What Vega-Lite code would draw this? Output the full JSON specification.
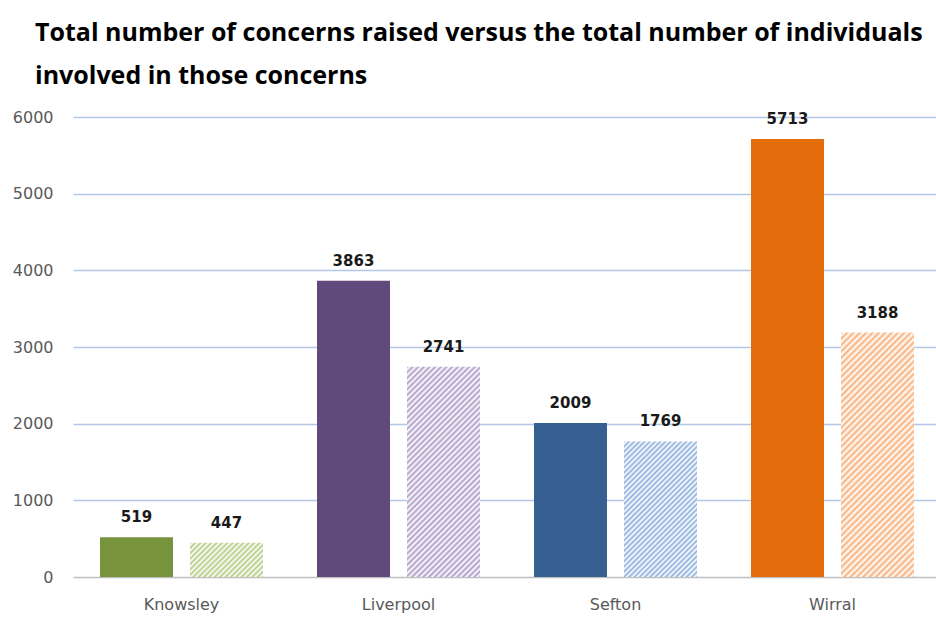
{
  "$schema": "https://vega.github.io/schema/vega-lite/v6.json",
  "width": 868,
  "height": 460,
  "autosize": {"type": "none"},
  "padding": {"left": 73, "top": 117, "right": 0, "bottom": 43},
  "background": "white",
  "config": {"view": {"stroke": null}},
  "title": {
    "text": ["Total number of concerns raised versus the total number of individuals", "involved in those concerns"],
    "anchor": "start",
    "frame": "group",
    "dx": -38,
    "offset": 20,
    "font": "Open Sans",
    "fontSize": 25,
    "fontWeight": "bold",
    "color": "#000000",
    "lineHeight": 43
  },
  "data": {
    "values": [
      {"area": "Knowsley", "type": "Concerns", "value": 519},
      {"area": "Knowsley", "type": "Individuals", "value": 447},
      {"area": "Liverpool", "type": "Concerns", "value": 3863},
      {"area": "Liverpool", "type": "Individuals", "value": 2741},
      {"area": "Sefton", "type": "Concerns", "value": 2009},
      {"area": "Sefton", "type": "Individuals", "value": 1769},
      {"area": "Wirral", "type": "Concerns", "value": 5713},
      {"area": "Wirral", "type": "Individuals", "value": 3188}
    ]
  },
  "encoding": {
    "x": {
      "field": "area", "type": "nominal", "sort": null,
      "scale": {"paddingInner": 0, "paddingOuter": -0.0115, "align": 0},
      "axis": {"title": null, "labelAngle": 0, "ticks": false, "tickSize": 0, "labelPadding": 19, "labelFont": "DejaVu Sans", "labelFontSize": 16, "labelColor": "#595959", "domainColor": "#BFBFBF", "domainWidth": 1.5, "grid": false}
    },
    "xOffset": {"field": "type", "type": "nominal", "scale": {"paddingInner": 0.189, "paddingOuter": 0.3}},
    "y": {
      "field": "value", "type": "quantitative",
      "scale": {"domain": [0, 6000]},
      "axis": {"title": null, "values": [0, 1000, 2000, 3000, 4000, 5000, 6000], "format": "d", "domain": false, "ticks": false, "tickSize": 0, "labelPadding": 20, "labelFont": "DejaVu Sans", "labelFontSize": 16, "labelColor": "#595959", "gridColor": {"condition": {"test": "datum.value === 0", "value": "transparent"}, "value": "#B4C8E6"}, "gridWidth": 1.4}
    }
  },
  "layer": [
    {
      "transform": [{"filter": "datum.type === 'Concerns'"}],
      "mark": {"type": "bar"},
      "encoding": {"color": {"field": "area", "type": "nominal", "sort": null, "scale": {"range": ["#77933C", "#604A7B", "#366092", "#E46C0A"]}, "legend": null}}
    },
    {
      "transform": [{"filter": "datum.type === 'Individuals' && datum.area === 'Knowsley'"}],
      "mark": {"type": "bar", "fill": {"gradient": "linear", "x1": 0, "y1": 0, "x2": 1.204, "y2": 0.565, "stops": [
        {"offset":0,"color":"#B3CB80"},{"offset":0.025,"color":"#fff"},{"offset":0.05,"color":"#B3CB80"},{"offset":0.075,"color":"#fff"},{"offset":0.1,"color":"#B3CB80"},{"offset":0.125,"color":"#fff"},{"offset":0.15,"color":"#B3CB80"},{"offset":0.175,"color":"#fff"},{"offset":0.2,"color":"#B3CB80"},{"offset":0.225,"color":"#fff"},{"offset":0.25,"color":"#B3CB80"},{"offset":0.275,"color":"#fff"},{"offset":0.3,"color":"#B3CB80"},{"offset":0.325,"color":"#fff"},{"offset":0.35,"color":"#B3CB80"},{"offset":0.375,"color":"#fff"},{"offset":0.4,"color":"#B3CB80"},{"offset":0.425,"color":"#fff"},{"offset":0.45,"color":"#B3CB80"},{"offset":0.475,"color":"#fff"},{"offset":0.5,"color":"#B3CB80"},{"offset":0.525,"color":"#fff"},{"offset":0.55,"color":"#B3CB80"},{"offset":0.575,"color":"#fff"},{"offset":0.6,"color":"#B3CB80"},{"offset":0.625,"color":"#fff"},{"offset":0.65,"color":"#B3CB80"},{"offset":0.675,"color":"#fff"},{"offset":0.7,"color":"#B3CB80"},{"offset":0.725,"color":"#fff"},{"offset":0.75,"color":"#B3CB80"},{"offset":0.775,"color":"#fff"},{"offset":0.8,"color":"#B3CB80"},{"offset":0.825,"color":"#fff"},{"offset":0.85,"color":"#B3CB80"},{"offset":0.875,"color":"#fff"},{"offset":0.9,"color":"#B3CB80"},{"offset":0.925,"color":"#fff"},{"offset":0.95,"color":"#B3CB80"},{"offset":0.975,"color":"#fff"},{"offset":1,"color":"#B3CB80"}
      ]}}
    },
    {
      "transform": [{"filter": "datum.type === 'Individuals' && datum.area === 'Liverpool'"}],
      "mark": {"type": "bar", "fill": {"gradient": "linear", "x1": 0, "y1": 0, "x2": 0.4176, "y2": 1.2023, "stops": [
        {"offset":0,"color":"#AE9BC6"},{"offset":0.01,"color":"#fff"},{"offset":0.02,"color":"#AE9BC6"},{"offset":0.03,"color":"#fff"},{"offset":0.04,"color":"#AE9BC6"},{"offset":0.05,"color":"#fff"},{"offset":0.06,"color":"#AE9BC6"},{"offset":0.07,"color":"#fff"},{"offset":0.08,"color":"#AE9BC6"},{"offset":0.09,"color":"#fff"},
        {"offset":0.1,"color":"#AE9BC6"},{"offset":0.11,"color":"#fff"},{"offset":0.12,"color":"#AE9BC6"},{"offset":0.13,"color":"#fff"},{"offset":0.14,"color":"#AE9BC6"},{"offset":0.15,"color":"#fff"},{"offset":0.16,"color":"#AE9BC6"},{"offset":0.17,"color":"#fff"},{"offset":0.18,"color":"#AE9BC6"},{"offset":0.19,"color":"#fff"},
        {"offset":0.2,"color":"#AE9BC6"},{"offset":0.21,"color":"#fff"},{"offset":0.22,"color":"#AE9BC6"},{"offset":0.23,"color":"#fff"},{"offset":0.24,"color":"#AE9BC6"},{"offset":0.25,"color":"#fff"},{"offset":0.26,"color":"#AE9BC6"},{"offset":0.27,"color":"#fff"},{"offset":0.28,"color":"#AE9BC6"},{"offset":0.29,"color":"#fff"},
        {"offset":0.3,"color":"#AE9BC6"},{"offset":0.31,"color":"#fff"},{"offset":0.32,"color":"#AE9BC6"},{"offset":0.33,"color":"#fff"},{"offset":0.34,"color":"#AE9BC6"},{"offset":0.35,"color":"#fff"},{"offset":0.36,"color":"#AE9BC6"},{"offset":0.37,"color":"#fff"},{"offset":0.38,"color":"#AE9BC6"},{"offset":0.39,"color":"#fff"},
        {"offset":0.4,"color":"#AE9BC6"},{"offset":0.41,"color":"#fff"},{"offset":0.42,"color":"#AE9BC6"},{"offset":0.43,"color":"#fff"},{"offset":0.44,"color":"#AE9BC6"},{"offset":0.45,"color":"#fff"},{"offset":0.46,"color":"#AE9BC6"},{"offset":0.47,"color":"#fff"},{"offset":0.48,"color":"#AE9BC6"},{"offset":0.49,"color":"#fff"},
        {"offset":0.5,"color":"#AE9BC6"},{"offset":0.51,"color":"#fff"},{"offset":0.52,"color":"#AE9BC6"},{"offset":0.53,"color":"#fff"},{"offset":0.54,"color":"#AE9BC6"},{"offset":0.55,"color":"#fff"},{"offset":0.56,"color":"#AE9BC6"},{"offset":0.57,"color":"#fff"},{"offset":0.58,"color":"#AE9BC6"},{"offset":0.59,"color":"#fff"},
        {"offset":0.6,"color":"#AE9BC6"},{"offset":0.61,"color":"#fff"},{"offset":0.62,"color":"#AE9BC6"},{"offset":0.63,"color":"#fff"},{"offset":0.64,"color":"#AE9BC6"},{"offset":0.65,"color":"#fff"},{"offset":0.66,"color":"#AE9BC6"},{"offset":0.67,"color":"#fff"},{"offset":0.68,"color":"#AE9BC6"},{"offset":0.69,"color":"#fff"},
        {"offset":0.7,"color":"#AE9BC6"},{"offset":0.71,"color":"#fff"},{"offset":0.72,"color":"#AE9BC6"},{"offset":0.73,"color":"#fff"},{"offset":0.74,"color":"#AE9BC6"},{"offset":0.75,"color":"#fff"},{"offset":0.76,"color":"#AE9BC6"},{"offset":0.77,"color":"#fff"},{"offset":0.78,"color":"#AE9BC6"},{"offset":0.79,"color":"#fff"},
        {"offset":0.8,"color":"#AE9BC6"},{"offset":0.81,"color":"#fff"},{"offset":0.82,"color":"#AE9BC6"},{"offset":0.83,"color":"#fff"},{"offset":0.84,"color":"#AE9BC6"},{"offset":0.85,"color":"#fff"},{"offset":0.86,"color":"#AE9BC6"},{"offset":0.87,"color":"#fff"},{"offset":0.88,"color":"#AE9BC6"},{"offset":0.89,"color":"#fff"},
        {"offset":0.9,"color":"#AE9BC6"},{"offset":0.91,"color":"#fff"},{"offset":0.92,"color":"#AE9BC6"},{"offset":0.93,"color":"#fff"},{"offset":0.94,"color":"#AE9BC6"},{"offset":0.95,"color":"#fff"},{"offset":0.96,"color":"#AE9BC6"},{"offset":0.97,"color":"#fff"},{"offset":0.98,"color":"#AE9BC6"},{"offset":0.99,"color":"#fff"},{"offset":1,"color":"#AE9BC6"}
      ]}}
    },
    {
      "transform": [{"filter": "datum.type === 'Individuals' && datum.area === 'Sefton'"}],
      "mark": {"type": "bar", "fill": {"gradient": "linear", "x1": 0, "y1": 0, "x2": 0.642, "y2": 1.1927, "stops": [
        {"offset":0,"color":"#8CAEDB"},{"offset":0.0125,"color":"#fff"},{"offset":0.025,"color":"#8CAEDB"},{"offset":0.0375,"color":"#fff"},{"offset":0.05,"color":"#8CAEDB"},{"offset":0.0625,"color":"#fff"},{"offset":0.075,"color":"#8CAEDB"},{"offset":0.0875,"color":"#fff"},
        {"offset":0.1,"color":"#8CAEDB"},{"offset":0.1125,"color":"#fff"},{"offset":0.125,"color":"#8CAEDB"},{"offset":0.1375,"color":"#fff"},{"offset":0.15,"color":"#8CAEDB"},{"offset":0.1625,"color":"#fff"},{"offset":0.175,"color":"#8CAEDB"},{"offset":0.1875,"color":"#fff"},
        {"offset":0.2,"color":"#8CAEDB"},{"offset":0.2125,"color":"#fff"},{"offset":0.225,"color":"#8CAEDB"},{"offset":0.2375,"color":"#fff"},{"offset":0.25,"color":"#8CAEDB"},{"offset":0.2625,"color":"#fff"},{"offset":0.275,"color":"#8CAEDB"},{"offset":0.2875,"color":"#fff"},
        {"offset":0.3,"color":"#8CAEDB"},{"offset":0.3125,"color":"#fff"},{"offset":0.325,"color":"#8CAEDB"},{"offset":0.3375,"color":"#fff"},{"offset":0.35,"color":"#8CAEDB"},{"offset":0.3625,"color":"#fff"},{"offset":0.375,"color":"#8CAEDB"},{"offset":0.3875,"color":"#fff"},
        {"offset":0.4,"color":"#8CAEDB"},{"offset":0.4125,"color":"#fff"},{"offset":0.425,"color":"#8CAEDB"},{"offset":0.4375,"color":"#fff"},{"offset":0.45,"color":"#8CAEDB"},{"offset":0.4625,"color":"#fff"},{"offset":0.475,"color":"#8CAEDB"},{"offset":0.4875,"color":"#fff"},
        {"offset":0.5,"color":"#8CAEDB"},{"offset":0.5125,"color":"#fff"},{"offset":0.525,"color":"#8CAEDB"},{"offset":0.5375,"color":"#fff"},{"offset":0.55,"color":"#8CAEDB"},{"offset":0.5625,"color":"#fff"},{"offset":0.575,"color":"#8CAEDB"},{"offset":0.5875,"color":"#fff"},
        {"offset":0.6,"color":"#8CAEDB"},{"offset":0.6125,"color":"#fff"},{"offset":0.625,"color":"#8CAEDB"},{"offset":0.6375,"color":"#fff"},{"offset":0.65,"color":"#8CAEDB"},{"offset":0.6625,"color":"#fff"},{"offset":0.675,"color":"#8CAEDB"},{"offset":0.6875,"color":"#fff"},
        {"offset":0.7,"color":"#8CAEDB"},{"offset":0.7125,"color":"#fff"},{"offset":0.725,"color":"#8CAEDB"},{"offset":0.7375,"color":"#fff"},{"offset":0.75,"color":"#8CAEDB"},{"offset":0.7625,"color":"#fff"},{"offset":0.775,"color":"#8CAEDB"},{"offset":0.7875,"color":"#fff"},
        {"offset":0.8,"color":"#8CAEDB"},{"offset":0.8125,"color":"#fff"},{"offset":0.825,"color":"#8CAEDB"},{"offset":0.8375,"color":"#fff"},{"offset":0.85,"color":"#8CAEDB"},{"offset":0.8625,"color":"#fff"},{"offset":0.875,"color":"#8CAEDB"},{"offset":0.8875,"color":"#fff"},
        {"offset":0.9,"color":"#8CAEDB"},{"offset":0.9125,"color":"#fff"},{"offset":0.925,"color":"#8CAEDB"},{"offset":0.9375,"color":"#fff"},{"offset":0.95,"color":"#8CAEDB"},{"offset":0.9625,"color":"#fff"},{"offset":0.975,"color":"#8CAEDB"},{"offset":0.9875,"color":"#fff"},{"offset":1,"color":"#8CAEDB"}
      ]}}
    },
    {
      "transform": [{"filter": "datum.type === 'Individuals' && datum.area === 'Wirral'"}],
      "mark": {"type": "bar", "fill": {"gradient": "linear", "x1": 0, "y1": 0, "x2": 0.3561, "y2": 1.1923, "stops": [
        {"offset":0,"color":"#F8B07A"},{"offset":0.01,"color":"#fff"},{"offset":0.02,"color":"#F8B07A"},{"offset":0.03,"color":"#fff"},{"offset":0.04,"color":"#F8B07A"},{"offset":0.05,"color":"#fff"},{"offset":0.06,"color":"#F8B07A"},{"offset":0.07,"color":"#fff"},{"offset":0.08,"color":"#F8B07A"},{"offset":0.09,"color":"#fff"},
        {"offset":0.1,"color":"#F8B07A"},{"offset":0.11,"color":"#fff"},{"offset":0.12,"color":"#F8B07A"},{"offset":0.13,"color":"#fff"},{"offset":0.14,"color":"#F8B07A"},{"offset":0.15,"color":"#fff"},{"offset":0.16,"color":"#F8B07A"},{"offset":0.17,"color":"#fff"},{"offset":0.18,"color":"#F8B07A"},{"offset":0.19,"color":"#fff"},
        {"offset":0.2,"color":"#F8B07A"},{"offset":0.21,"color":"#fff"},{"offset":0.22,"color":"#F8B07A"},{"offset":0.23,"color":"#fff"},{"offset":0.24,"color":"#F8B07A"},{"offset":0.25,"color":"#fff"},{"offset":0.26,"color":"#F8B07A"},{"offset":0.27,"color":"#fff"},{"offset":0.28,"color":"#F8B07A"},{"offset":0.29,"color":"#fff"},
        {"offset":0.3,"color":"#F8B07A"},{"offset":0.31,"color":"#fff"},{"offset":0.32,"color":"#F8B07A"},{"offset":0.33,"color":"#fff"},{"offset":0.34,"color":"#F8B07A"},{"offset":0.35,"color":"#fff"},{"offset":0.36,"color":"#F8B07A"},{"offset":0.37,"color":"#fff"},{"offset":0.38,"color":"#F8B07A"},{"offset":0.39,"color":"#fff"},
        {"offset":0.4,"color":"#F8B07A"},{"offset":0.41,"color":"#fff"},{"offset":0.42,"color":"#F8B07A"},{"offset":0.43,"color":"#fff"},{"offset":0.44,"color":"#F8B07A"},{"offset":0.45,"color":"#fff"},{"offset":0.46,"color":"#F8B07A"},{"offset":0.47,"color":"#fff"},{"offset":0.48,"color":"#F8B07A"},{"offset":0.49,"color":"#fff"},
        {"offset":0.5,"color":"#F8B07A"},{"offset":0.51,"color":"#fff"},{"offset":0.52,"color":"#F8B07A"},{"offset":0.53,"color":"#fff"},{"offset":0.54,"color":"#F8B07A"},{"offset":0.55,"color":"#fff"},{"offset":0.56,"color":"#F8B07A"},{"offset":0.57,"color":"#fff"},{"offset":0.58,"color":"#F8B07A"},{"offset":0.59,"color":"#fff"},
        {"offset":0.6,"color":"#F8B07A"},{"offset":0.61,"color":"#fff"},{"offset":0.62,"color":"#F8B07A"},{"offset":0.63,"color":"#fff"},{"offset":0.64,"color":"#F8B07A"},{"offset":0.65,"color":"#fff"},{"offset":0.66,"color":"#F8B07A"},{"offset":0.67,"color":"#fff"},{"offset":0.68,"color":"#F8B07A"},{"offset":0.69,"color":"#fff"},
        {"offset":0.7,"color":"#F8B07A"},{"offset":0.71,"color":"#fff"},{"offset":0.72,"color":"#F8B07A"},{"offset":0.73,"color":"#fff"},{"offset":0.74,"color":"#F8B07A"},{"offset":0.75,"color":"#fff"},{"offset":0.76,"color":"#F8B07A"},{"offset":0.77,"color":"#fff"},{"offset":0.78,"color":"#F8B07A"},{"offset":0.79,"color":"#fff"},
        {"offset":0.8,"color":"#F8B07A"},{"offset":0.81,"color":"#fff"},{"offset":0.82,"color":"#F8B07A"},{"offset":0.83,"color":"#fff"},{"offset":0.84,"color":"#F8B07A"},{"offset":0.85,"color":"#fff"},{"offset":0.86,"color":"#F8B07A"},{"offset":0.87,"color":"#fff"},{"offset":0.88,"color":"#F8B07A"},{"offset":0.89,"color":"#fff"},
        {"offset":0.9,"color":"#F8B07A"},{"offset":0.91,"color":"#fff"},{"offset":0.92,"color":"#F8B07A"},{"offset":0.93,"color":"#fff"},{"offset":0.94,"color":"#F8B07A"},{"offset":0.95,"color":"#fff"},{"offset":0.96,"color":"#F8B07A"},{"offset":0.97,"color":"#fff"},{"offset":0.98,"color":"#F8B07A"},{"offset":0.99,"color":"#fff"},{"offset":1,"color":"#F8B07A"}
      ]}}
    },
    {
      "mark": {"type": "text", "baseline": "alphabetic", "dy": -15, "font": "DejaVu Sans", "fontSize": 15, "fontWeight": "bold", "color": "#1A1A1A"},
      "encoding": {"text": {"field": "value", "type": "quantitative", "format": "d"}}
    }
  ],
  "resolve": {"scale": {"color": "independent"}}
}
